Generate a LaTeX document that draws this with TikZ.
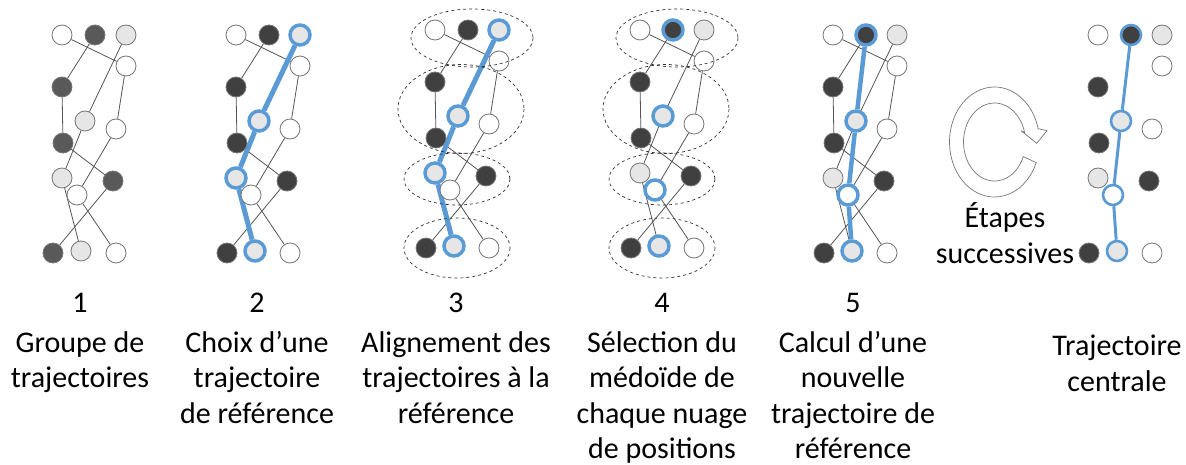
\documentclass[tikz,border=0pt]{standalone}
\usepackage{fontspec}
\setmainfont{Carlito}
\usetikzlibrary{positioning}
\definecolor{trace}{HTML}{5B9BD5}
\definecolor{darkfill}{HTML}{404040}
\definecolor{greyfill}{HTML}{595959}
\definecolor{palefill}{HTML}{E7E6E6}
\definecolor{rim}{HTML}{767676}
\definecolor{linkgrey}{HTML}{555555}
\pgfdeclarelayer{back}
\pgfsetlayers{back,main}
\tikzset{
  dot/.style={circle, draw=rim, line width=0.8pt, minimum size=20pt, inner sep=0pt},
  ring/.style={circle, draw=trace, line width=3.5pt, minimum size=20pt, inner sep=0pt},
  thinring/.style={ring, line width=2.6pt},
  link/.style={draw=linkgrey, line width=0.8pt},
  tracepath/.style={draw=trace, line width=5pt},
  cloudring/.style={draw=black!80, dashed, line width=0.7pt},
  numlabel/.style={anchor=base, font=\fontsize{30}{35.5}\selectfont},
  % anchor base = baseline of the last line
  caption/.style={align=center, anchor=base, font=\fontsize{30}{35.5}\selectfont}
}
% one group of three trajectories, #1 = prefix, #2 = fill of the dark one
\newcommand{\trajdots}[2]{%
  \node[dot, fill=#2] (#1d1) at (95,35) {};
  \node[dot, fill=#2] (#1d2) at (62,87) {};
  \node[dot, fill=#2] (#1d3) at (63,143) {};
  \node[dot, fill=#2] (#1d4) at (113,181) {};
  \node[dot, fill=#2] (#1d5) at (53,253) {};
  \node[dot, fill=palefill] (#1l1) at (126,35) {};
  \node[dot, fill=palefill] (#1l2) at (85,121) {};
  \node[dot, fill=palefill] (#1l3) at (62,178) {};
  \node[dot, fill=palefill] (#1l4) at (81,251) {};
  \node[dot, fill=white] (#1w1) at (62,35) {};
  \node[dot, fill=white] (#1w2) at (126,66) {};
  \node[dot, fill=white] (#1w3) at (116,129) {};
  \node[dot, fill=white] (#1w4) at (77,195) {};
  \node[dot, fill=white] (#1w5) at (116,253) {};
}
\newcommand{\trajlinks}[1]{%
  \begin{pgfonlayer}{back}
    \draw[link] (#1d1) -- (#1d2) -- (#1d3) -- (#1d4) -- (#1d5);
    \draw[link] (#1l1) -- (#1l2) -- (#1l3) -- (#1l4);
    \draw[link] (#1w1) -- (#1w2) -- (#1w3) -- (#1w4) -- (#1w5);
  \end{pgfonlayer}}
\newcommand{\posclouds}{%
  \draw[cloudring] (99,43) ellipse[x radius=61, y radius=29];
  \draw[cloudring] (88,114) ellipse[x radius=63, y radius=44.5];
  \draw[cloudring] (84,184) ellipse[x radius=53, y radius=26];
  \draw[cloudring] (84,253) ellipse[x radius=53, y radius=30];
}

\begin{document}
\begin{tikzpicture}[x=1pt, y=-1pt]
  \useasboundingbox (0,0) rectangle (1186,465);

  % 1 group
  \trajdots{p1}{greyfill}
  \trajlinks{p1}

  % 2 reference
  \begin{scope}[xshift=174pt]
    \trajdots{p2}{darkfill}
    \trajlinks{p2}
    \node[ring] (p2r1) at (p2l1) {};
    \node[ring] (p2r2) at (p2l2) {};
    \node[ring] (p2r3) at (p2l3) {};
    \node[ring] (p2r4) at (p2l4) {};
    \begin{pgfonlayer}{back}
      \draw[tracepath] (p2r1) -- (p2r2) -- (p2r3) -- (p2r4);
    \end{pgfonlayer}
  \end{scope}

  % 3 alignment
  \begin{scope}[xshift=373pt, yshift=5pt]
    \trajdots{p3}{darkfill}
    \trajlinks{p3}
    \node[ring] (p3r1) at (p3l1) {};
    \node[ring] (p3r2) at (p3l2) {};
    \node[ring] (p3r3) at (p3l3) {};
    \node[ring] (p3r4) at (p3l4) {};
    \begin{pgfonlayer}{back}
      \draw[tracepath] (p3r1) -- (p3r2) -- (p3r3) -- (p3r4);
    \end{pgfonlayer}
    \posclouds
  \end{scope}

  % 4 medoids
  \begin{scope}[xshift=578pt, yshift=5pt]
    \trajdots{p4}{darkfill}
    \trajlinks{p4}
    \node[ring] (p4r1) at (p4d1) {};
    \node[ring] (p4r2) at (p4l2) {};
    \node[ring] (p4r3) at (p4w4) {};
    \node[ring] (p4r4) at (p4l4) {};
    \posclouds
  \end{scope}

  % 5 new reference
  \begin{scope}[xshift=771pt]
    \trajdots{p5}{darkfill}
    \trajlinks{p5}
    \node[ring] (p5r1) at (p5d1) {};
    \node[ring] (p5r2) at (p5l2) {};
    \node[ring] (p5r3) at (p5w4) {};
    \node[ring] (p5r4) at (p5l4) {};
    \begin{pgfonlayer}{back}
      \draw[tracepath, line width=4.5pt] (p5r1) -- (p5r2) -- (p5r3) -- (p5r4);
    \end{pgfonlayer}
  \end{scope}

  % central trajectory
  \begin{scope}[xshift=1036pt]
    \trajdots{p6}{darkfill}
    \node[thinring] (p6r1) at (p6d1) {};
    \node[thinring] (p6r2) at (p6l2) {};
    \node[thinring] (p6r3) at (p6w4) {};
    \node[thinring] (p6r4) at (p6l4) {};
    \begin{pgfonlayer}{back}
      \draw[tracepath, line width=3pt] (p6r1) -- (p6r2) -- (p6r3) -- (p6r4);
    \end{pgfonlayer}
  \end{scope}

  % loop arrow
  \draw[draw=rim, line width=0.7pt, fill=white]
    (1036.2,162.6) arc[start angle=22, end angle=346, x radius=45, y radius=55]
    -- (1047,130.7) -- (1036.7,143.3) -- (1021,130.7) -- (1024.6,132.6)
    arc[start angle=346, end angle=22, x radius=31, y radius=39] -- cycle;
  \node[caption] (loop) at (1005,263) {Étapes\\successives};

  % captions
  \node[numlabel] (n1) at (80,312) {1};
  \node[numlabel] (n2) at (257,312) {2};
  \node[numlabel] (n3) at (456,312) {3};
  \node[numlabel] (n4) at (662,312) {4};
  \node[numlabel] (n5) at (853,312) {5};
  \node[caption] (c1) at (80,387.5) {Groupe de\\trajectoires};
  \node[caption] (c2) at (257,423) {Choix d’une\\trajectoire\\de référence};
  \node[caption] (c3) at (456,423) {Alignement des\\trajectoires à la\\référence};
  \node[caption] (c4) at (662,458.5) {Sélection du\\médoïde de\\chaque nuage\\de positions};
  \node[caption] (c5) at (853,458.5) {Calcul d’une\\nouvelle\\trajectoire de\\référence};
  \node[caption] (c6) at (1117,391) {Trajectoire\\centrale};
\end{tikzpicture}
\end{document}
